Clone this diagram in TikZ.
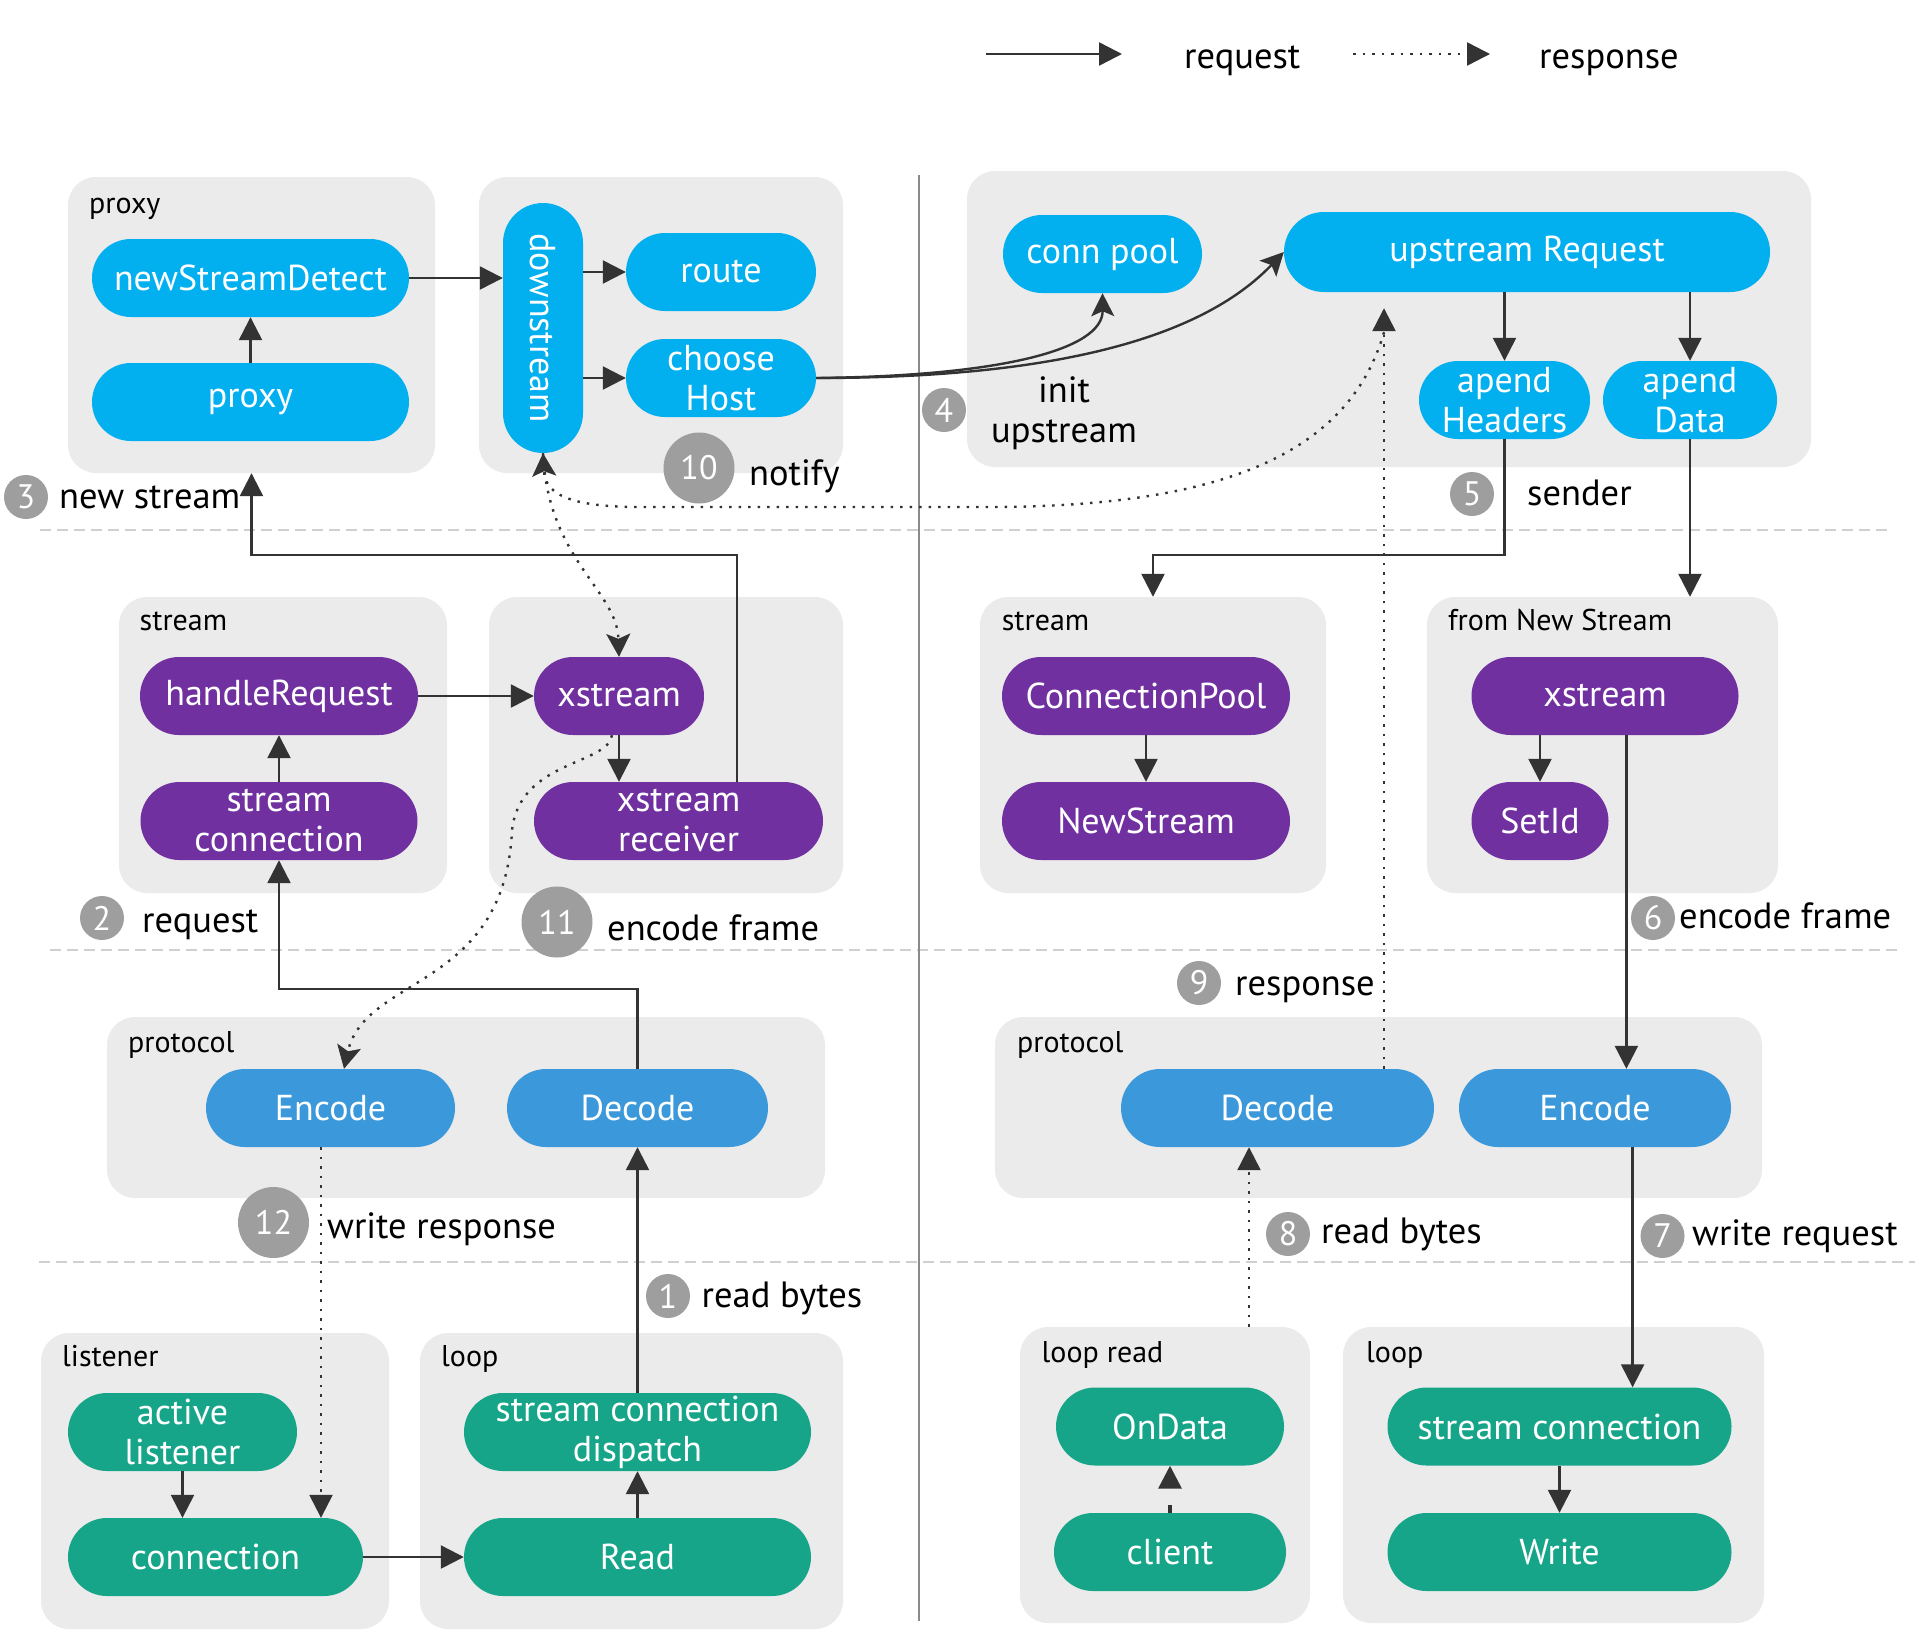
\documentclass[tikz,border=0pt]{standalone}
\usepackage{fontspec}
\setmainfont{PT Sans}
\usetikzlibrary{arrows.meta,calc}
\definecolor{cyanb}{HTML}{02AFEF}
\definecolor{purp}{HTML}{7030A0}
\definecolor{protob}{HTML}{3A98DB}
\definecolor{tealg}{HTML}{17A589}
\definecolor{grpg}{HTML}{EBEBEB}
\definecolor{badgeg}{HTML}{9E9E9E}
\definecolor{arrowc}{HTML}{333333}
\definecolor{sepg}{HTML}{D0D0D0}
\definecolor{vsep}{HTML}{8A8A8A}
\newcommand{\mynodefont}{\fontsize{36}{40}\selectfont}
\newcommand{\mybadgefont}{\fontsize{34}{40}\selectfont}
\newcommand{\mygrpfont}{\fontsize{30}{34}\selectfont}
\newcommand{\mylabfont}{\fontsize{36.5}{40}\selectfont}
\begin{document}
\begin{tikzpicture}[x=1pt,y=-1pt,
 grp/.style={fill=grpg, rounded corners=28pt, inner sep=0pt, minimum height=296pt},
 pill/.style={text=white, font=\mynodefont, align=center, inner sep=0pt, minimum height=78pt, rounded corners=39pt},
 cy/.style={pill, fill=cyanb},
 pu/.style={pill, fill=purp},
 pb/.style={pill, fill=protob},
 tg/.style={pill, fill=tealg},
 glab/.style={font=\mygrpfont, anchor=base west, inner sep=0pt},
 lab/.style={font=\mylabfont, anchor=base west, inner sep=0pt},
 badge/.style={circle, fill=badgeg, text=white, font=\mybadgefont, inner sep=0pt, minimum size=44pt},
 badgetwo/.style={badge, minimum size=71pt},
 req/.style={draw=arrowc, line width=2.4pt, -{Triangle[length=23pt,width=23pt]}},
 reqc/.style={req, -{Stealth[length=23pt,width=23pt,inset=5pt]}},
 resp/.style={draw=arrowc, line width=2.4pt, dash pattern=on 2.5pt off 7pt, -{Triangle[length=23pt,width=23pt]}},
 respc/.style={resp, -{Stealth[length=23pt,width=24pt,inset=5pt]}},
 sepline/.style={draw=sepg, line width=2pt, dash pattern=on 11pt off 6pt},
]
\useasboundingbox (0,0) rectangle (1926,1630);

% separators
\coordinate (s1a) at (40,530); \coordinate (s1b) at (1888,530);
\coordinate (s2a) at (50,950); \coordinate (s2b) at (1899,950);
\coordinate (s3a) at (39,1262); \coordinate (s3b) at (1915,1262);
\draw[sepline] (s1a) -- (s1b);
\draw[sepline] (s2a) -- (s2b);
\draw[sepline] (s3a) -- (s3b);
\coordinate (va) at (919,175); \coordinate (vb) at (919,1621);
\draw[draw=vsep, line width=1.6pt] (va) -- (vb);

% legend
\coordinate (l1a) at (986,54); \coordinate (l1b) at (1122,54);
\draw[req] (l1a) -- (l1b);
\node[lab] (lreq) at (1184,68) {request};
\coordinate (l2a) at (1353,54); \coordinate (l2b) at (1490,54);
\draw[resp] (l2a) -- (l2b);
\node[lab] (lresp) at (1539,68) {response};

% groups
\node[grp, minimum width=367pt] (g1) at (251.5,325) {};
\node[grp, minimum width=364pt] (g2) at (661,325) {};
\node[grp, minimum width=844pt] (g3) at (1389,319) {};
\node[grp, minimum width=328pt] (g4) at (283,745) {};
\node[grp, minimum width=354pt] (g5) at (666,745) {};
\node[grp, minimum width=346pt] (g6) at (1153,745) {};
\node[grp, minimum width=351pt] (g7) at (1602.5,745) {};
\node[grp, minimum width=718pt, minimum height=181pt] (g8) at (466,1107.5) {};
\node[grp, minimum width=767pt, minimum height=181pt] (g9) at (1378.5,1107.5) {};
\node[grp, minimum width=348pt] (g10) at (215,1481) {};
\node[grp, minimum width=423pt] (g11) at (631.5,1481) {};
\node[grp, minimum width=290pt] (g12) at (1165,1475) {};
\node[grp, minimum width=421pt] (g13) at (1553.5,1475) {};

% group labels
\node[glab] (gl1) at (89,213) {proxy};
\node[glab] (gl4) at (139.5,630) {stream};
\node[glab] (gl6) at (1001.6,630) {stream};
\node[glab] (gl7) at (1447.8,630) {from New Stream};
\node[glab] (gl8) at (128,1052) {protocol};
\node[glab] (gl9) at (1017,1052) {protocol};
\node[glab] (gl10) at (62,1366) {listener};
\node[glab] (gl11) at (441,1366) {loop};
\node[glab] (gl12) at (1041.5,1362) {loop read};
\node[glab] (gl13) at (1366,1362) {loop};

% top row nodes
\node[cy, minimum width=317pt] (nsd) at (250.5,278) {newStreamDetect};
\node[cy, minimum width=317pt] (prx) at (250.5,402) {proxy};
\node[cy, minimum width=80pt, minimum height=250pt, rounded corners=40pt,
      label={[rotate=-90, text=white, font=\mynodefont]center:downstream}] (down) at (543,328) {};
\node[cy, minimum width=190pt] (route) at (721,272) {route};
\node[cy, minimum width=190pt] (host) at (721,378) {choose\\Host};
\node[cy, minimum width=199pt] (pool) at (1102.5,254) {conn pool};
\node[cy, minimum width=486pt, minimum height=80pt, rounded corners=40pt] (ureq) at (1527,252) {upstream Request};
\node[cy, minimum width=171pt] (hdr) at (1504.5,400) {apend\\Headers};
\node[cy, minimum width=174pt] (dat) at (1690,400) {apend\\Data};

% middle row nodes
\node[pu, minimum width=278pt] (hreq) at (279,696) {handleRequest};
\node[pu, minimum width=277pt] (sconn) at (279,821) {stream\\connection};
\node[pu, minimum width=170pt] (xs) at (619,696) {xstream};
\node[pu, minimum width=289pt] (xsr) at (678.5,821) {xstream\\receiver};
\node[pu, minimum width=288pt] (cp) at (1146,696) {ConnectionPool};
\node[pu, minimum width=288pt] (ns) at (1146,821) {NewStream};
\node[pu, minimum width=267pt] (xs2) at (1605,696) {xstream};
\node[pu, minimum width=137pt] (setid) at (1540,821) {SetId};

% protocol nodes
\node[pb, minimum width=249pt] (enc1) at (330.5,1108) {Encode};
\node[pb, minimum width=261pt] (dec1) at (637.5,1108) {Decode};
\node[pb, minimum width=313pt] (dec2) at (1277.5,1108) {Decode};
\node[pb, minimum width=272pt] (enc2) at (1595,1108) {Encode};

% bottom nodes
\node[tg, minimum width=229pt] (al) at (182.5,1432) {active\\listener};
\node[tg, minimum width=295pt] (conn) at (215.5,1557) {connection};
\node[tg, minimum width=347pt] (disp) at (637.5,1432) {stream connection\\dispatch};
\node[tg, minimum width=347pt] (read) at (637.5,1557) {Read};
\node[tg, minimum width=228pt] (ondata) at (1170,1426.5) {OnData};
\node[tg, minimum width=232pt] (client) at (1170,1552) {client};
\node[tg, minimum width=344pt] (sc2) at (1559.5,1426.5) {stream connection};
\node[tg, minimum width=344pt] (write) at (1559.5,1552) {Write};

% request arrows
\draw[req] (prx) -- (nsd);
\draw[req] (nsd.east) -- (nsd.east -| down.west);
\draw[req] (route.west -| down.east) -- (route.west);
\draw[req] (host.west -| down.east) -- (host.west);
\draw[reqc] (host.east) .. controls (1000,376) and (1103,350) .. (pool.south);
\draw[reqc] (host.east) .. controls (1050,378) and (1200,340) .. (ureq.west);
\draw[req] (ureq.south -| hdr.north) -- (hdr.north);
\draw[req] (ureq.south -| dat.north) -- (dat.north);
\coordinate (ky1) at (0,555);
\draw[req] (hdr.south) -- (hdr.south |- ky1) -| (g6.north);
\draw[req] (dat.south) -- (dat.south |- g7.north);
\draw[req] ([xshift=58.5pt]xsr.north) -- ([xshift=58.5pt]xsr.north |- ky1) -| (g1.south);
\draw[req] (sconn) -- (hreq);
\draw[req] (hreq) -- (xs);
\draw[req] (xs) -- (xs.south |- xsr.north);
\coordinate (ky2) at (0,989);
\draw[req] (dec1.north) -- (dec1.north |- ky2) -| (sconn.south);
\draw[req] (disp) -- (dec1);
\draw[req] (read) -- (disp);
\draw[req] (al) -- (al.south |- conn.north);
\draw[req] (conn) -- (read);
\draw[req] (cp) -- (ns);
\draw[req] (setid.north |- xs2.south) -- (setid.north);
\draw[req] ([xshift=21.4pt]xs2.south) -- ([xshift=21.4pt]xs2.south |- enc2.north);
\draw[req] ([xshift=37.6pt]enc2.south) -- ([xshift=37.6pt]enc2.south |- sc2.north);
\draw[req] (sc2) -- (write);

% response arrows
\draw[resp] ([xshift=-9.5pt]enc1.south) -- ([xshift=-9.5pt]enc1.south |- conn.north);
\draw[resp] ([xshift=84pt]g12.north) -- ([xshift=84pt]g12.north |- dec2.south);
\coordinate (utip) at ($(ureq.south)+(-143,16)$);
\draw[resp] ([xshift=106.5pt]dec2.north) -- ([xshift=106.5pt]dec2.north |- utip);
\coordinate (nst) at ($(utip)+(0,24)$);
\draw[respc] (nst) .. controls (1350,450) and (1230,505) .. (1000,507) -- (640,507) .. controls (560,507) and (545,490) .. (down.south);
\draw[respc] (down.south) .. controls (548,560) and (617,590) .. (xs.north);
\draw[respc] ([xshift=-7pt]xs.south) .. controls (608,765) and (520,760) .. (512,830) .. controls (505,990) and (365,975) .. ([xshift=13.5pt]enc1.north);
\draw[resp, dash pattern=on 8pt off 40pt, line width=3.5pt] (client) -- (ondata);

% badges
\node[badge] (b3) at (26,497) {3};
\node[badge] (b4) at (944,410) {4};
\node[badge] (b5) at (1472,494) {5};
\node[badgetwo] (b10) at (699,468) {10};
\node[badge] (b2) at (102,918) {2};
\node[badgetwo] (b11) at (557,922) {11};
\node[badge] (b6) at (1653,918) {6};
\node[badge] (b9) at (1199,983) {9};
\node[badgetwo] (b12) at (273.5,1222.5) {12};
\node[badge] (b1) at (668,1296) {1};
\node[badge] (b8) at (1288,1234) {8};
\node[badge] (b7) at (1662.5,1236) {7};

% step labels
\node[lab] (t3) at (59,508) {new stream};
\node[lab, align=center, anchor=center] (t4) at (1064,413) {init\\upstream};
\node[lab] (t5) at (1527,505) {sender};
\node[lab] (t10) at (749,485) {notify};
\node[lab] (t2) at (142,932) {request};
\node[lab] (t11) at (607,940) {encode frame};
\node[lab] (t6) at (1679,928) {encode frame};
\node[lab] (t9) at (1235,995) {response};
\node[lab] (t12) at (327,1238) {write response};
\node[lab] (t1) at (701.5,1307) {read bytes};
\node[lab] (t8) at (1321,1243) {read bytes};
\node[lab] (t7) at (1692,1245) {write request};
\end{tikzpicture}
\end{document}
